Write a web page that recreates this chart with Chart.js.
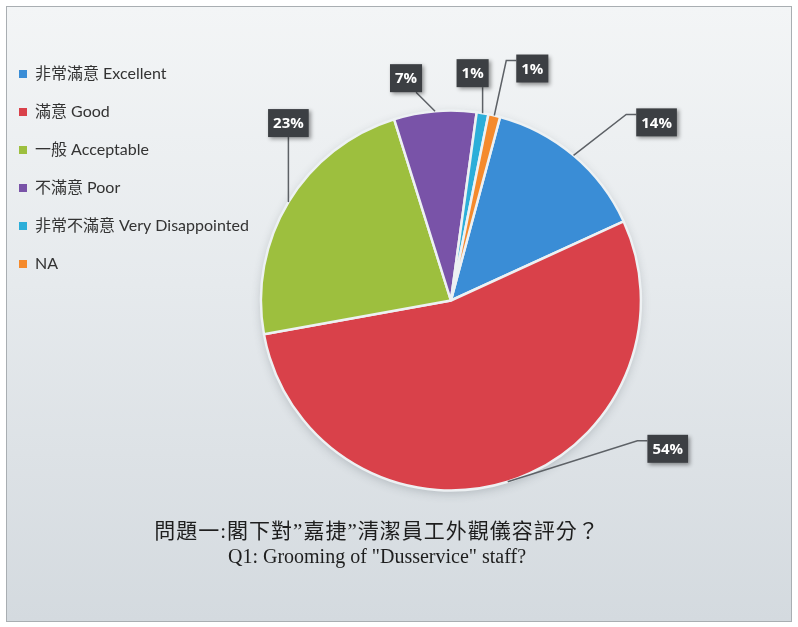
<!DOCTYPE html>
<html>
<head>
<meta charset="utf-8">
<script src="https://cdn.jsdelivr.net/npm/chart.js@4"></script>
<style>
  html, body { margin: 0; padding: 0; background: #fff; }
  #frame {
    position: absolute; left: 6px; top: 6px; width: 784px; height: 614px;
    border: 1px solid #a9aeb2;
    background: linear-gradient(180deg, #f3f5f6 0%, #e6eaed 45%, #d4dadf 100%);
  }
  #wrap { position: absolute; left: 0; top: 0; width: 798px; height: 627px; }
  #title {
    position: absolute; left: 0; width: 754px; top: 519px;
    text-align: center; color: #1e1e1e;
    font: 20px/25px "Liberation Serif", "Noto Sans CJK TC", serif;
  }
  #title .zh { font-size: 21px; letter-spacing: 1px; }
</style>
</head>
<body>
<div id="frame"></div>
<div id="wrap"><canvas id="pieChart" width="798" height="627"></canvas></div>
<div id="title"><span class="zh">問題一:閣下對”嘉捷”清潔員工外觀儀容評分？</span><br>Q1: Grooming of "Dusservice" staff?</div>
<script>
const categories = ['非常滿意 Excellent', '滿意 Good', '一般 Acceptable', '不滿意 Poor', '非常不滿意 Very Disappointed', 'NA'];
const shares = [14, 54, 23, 7, 1, 1];
const sliceColors = ['#3a8dd6', '#d9414a', '#9dbf3e', '#7953a8', '#2caed9', '#f58a2c'];
// where each % box sits, measured from the rim point of its slice
const labelOffsets = [[83, -33], [160, -33], [0, -79], [-29, -33], [-10, -40], [38, -47]];

// soft shadow under the pie + the dark percentage boxes with leader lines
const percentLabels = {
  id: 'percentLabels',
  beforeDatasetsDraw(chart) {
    const first = chart.getDatasetMeta(0).data[0];
    const {x, y, outerRadius} = first.getProps(['x', 'y', 'outerRadius'], true);
    const ctx = chart.ctx;
    ctx.save();
    ctx.shadowColor = 'rgba(60,70,80,0.25)';
    ctx.shadowBlur = 10;
    ctx.shadowOffsetY = 3;
    ctx.fillStyle = '#edf1f3';
    ctx.beginPath();
    ctx.arc(x, y, outerRadius, 0, Math.PI * 2);
    ctx.fill();
    ctx.restore();
  },
  afterDatasetsDraw(chart) {
    const ctx = chart.ctx;
    const data = chart.data.datasets[0].data;
    const total = data.reduce((a, b) => a + b, 0);
    ctx.save();
    ctx.font = 'bold 15px "Open Sans", sans-serif';
    chart.getDatasetMeta(0).data.forEach((arc, i) => {
      const {x, y, startAngle, endAngle, outerRadius} =
        arc.getProps(['x', 'y', 'startAngle', 'endAngle', 'outerRadius'], true);
      const mid = (startAngle + endAngle) / 2;
      const rx = x + Math.cos(mid) * outerRadius;
      const ry = y + Math.sin(mid) * outerRadius;
      const text = Math.round(data[i] / total * 100) + '%';
      const w = ctx.measureText(text).width + 10;
      const h = 28;
      const cx = rx + labelOffsets[i][0];
      const cy = ry + labelOffsets[i][1];
      const left = cx - w / 2, top = cy - h / 2, right = cx + w / 2, bottom = cy + h / 2;

      ctx.strokeStyle = '#5d6166';
      ctx.lineWidth = 1.5;
      ctx.beginPath();
      ctx.moveTo(rx, ry);
      if (left > rx + 20) {
        ctx.lineTo(left - 10, top + 6);
        ctx.lineTo(left, top + 6);
      } else if (right < rx - 20) {
        ctx.lineTo(right + 10, top + 6);
        ctx.lineTo(right, top + 6);
      } else {
        ctx.lineTo(Math.min(Math.max(rx, left + 6), right - 6), bottom);
      }
      ctx.stroke();

      ctx.save();
      ctx.shadowColor = 'rgba(0,0,0,0.4)';
      ctx.shadowBlur = 4;
      ctx.shadowOffsetX = 2;
      ctx.shadowOffsetY = 2;
      ctx.fillStyle = '#3c3f43';
      ctx.fillRect(left, top, w, h);
      ctx.restore();

      ctx.fillStyle = '#fff';
      ctx.textAlign = 'center';
      ctx.textBaseline = 'middle';
      ctx.fillText(text, cx, cy + 1);
    });
    ctx.restore();
  }
};

new Chart(document.getElementById('pieChart'), {
  type: 'pie',
  data: {
    labels: categories,
    datasets: [{
      data: shares,
      backgroundColor: sliceColors,
      borderColor: '#edf1f3',
      borderWidth: 2.5,
      radius: 190
    }]
  },
  options: {
    responsive: false,
    animation: false,
    rotation: 15,
    layout: {
      padding: { left: -3, top: 44, right: 155, bottom: 70 }
    },
    plugins: {
      legend: {
        position: 'left',
        align: 'start',
        labels: {
          boxWidth: 8,
          boxHeight: 8,
          padding: 22,
          color: '#333',
          font: { size: 16, family: 'Lato, "Noto Sans CJK TC", sans-serif' },
          generateLabels(chart) {
            return Chart.overrides.doughnut.plugins.legend.labels.generateLabels(chart)
              .map(item => ({ ...item, lineWidth: 0 }));
          }
        }
      },
      tooltip: { enabled: false }
    }
  },
  plugins: [percentLabels]
});
</script>
</body>
</html>
